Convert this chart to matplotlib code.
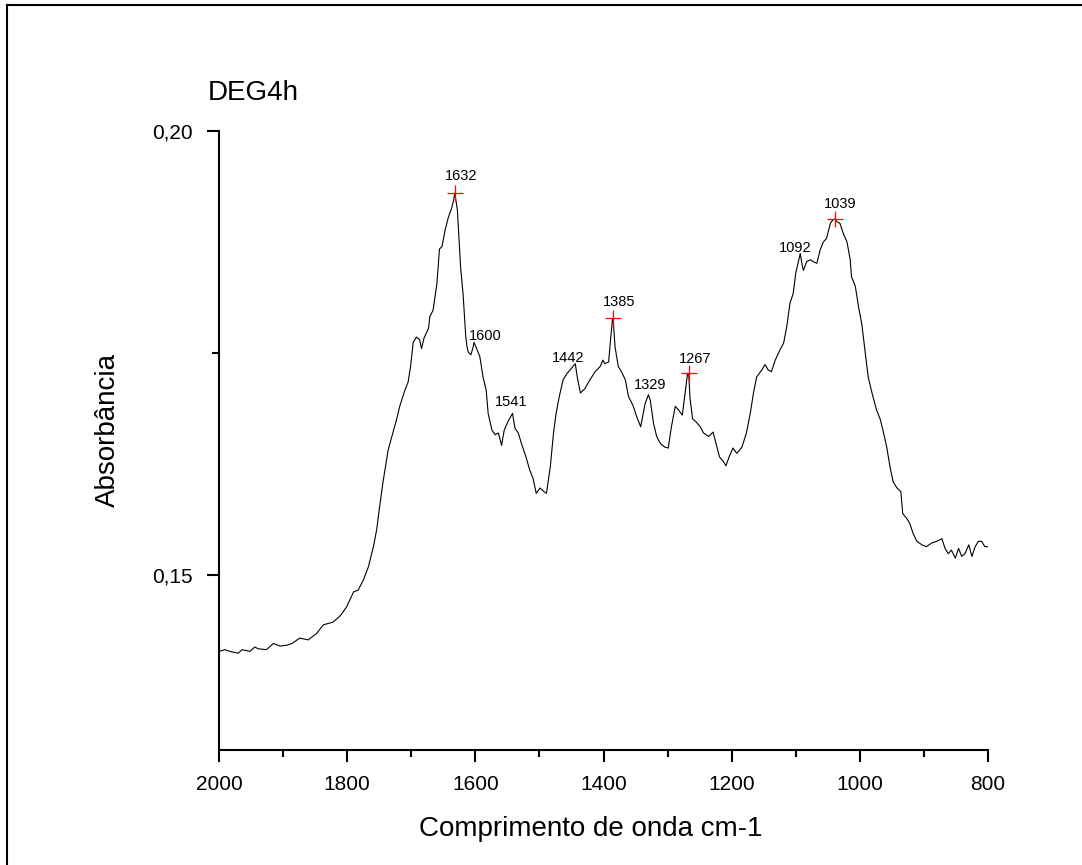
import numpy as np
import matplotlib
matplotlib.use("Agg")
import matplotlib.pyplot as plt
from matplotlib.lines import Line2D
from matplotlib.ticker import FixedLocator, MultipleLocator, FuncFormatter

plt.rcParams['font.family'] = ['Liberation Sans', 'DejaVu Sans']

# espectro FTIR (numero de onda, absorbancia)
wavenumber = [2000, 1991, 1983, 1970, 1964, 1952, 1944, 1939, 1926, 1915,
              1905, 1894, 1886, 1874, 1861, 1848, 1837, 1822, 1811, 1801,
              1790, 1783, 1775, 1767, 1759, 1754, 1749, 1744, 1736, 1723,
              1718, 1710, 1705, 1701, 1697, 1692, 1687, 1684, 1680, 1673,
              1671, 1666, 1660, 1656, 1652, 1647, 1642, 1637, 1634, 1632,
              1628, 1623, 1619, 1615, 1613, 1611, 1607, 1604, 1602, 1597,
              1593, 1588, 1583, 1580, 1574, 1569, 1564, 1559, 1555, 1549,
              1542, 1538, 1533, 1528, 1521, 1515, 1510, 1505, 1499, 1493,
              1489, 1483, 1478, 1474, 1469, 1463, 1457, 1452, 1444, 1441,
              1436, 1429, 1421, 1413, 1405, 1401, 1398, 1392, 1389, 1386,
              1385, 1382, 1377, 1372, 1366, 1361, 1354, 1348, 1342, 1335,
              1330, 1327, 1322, 1317, 1311, 1304, 1299, 1294, 1288, 1283,
              1277, 1273, 1269, 1267, 1265, 1261, 1255, 1249, 1244, 1236,
              1229, 1223, 1219, 1213, 1209, 1204, 1198, 1192, 1184, 1177,
              1171, 1166, 1161, 1153, 1148, 1143, 1138, 1132, 1125, 1119,
              1114, 1109, 1104, 1100, 1093, 1090, 1088, 1083, 1077, 1073,
              1067, 1062, 1057, 1052, 1046, 1042, 1039, 1036, 1031, 1026,
              1020, 1015, 1013, 1007, 1002, 997, 992, 987, 981, 974,
              968, 963, 958, 953, 948, 942, 936, 933, 927, 922,
              917, 911, 903, 896, 888, 880, 872, 867, 862, 857,
              851, 846, 841, 836, 830, 825, 820, 815, 810, 805, 801]
absorbance = [.1414, .1416, .1414, .1412, .1416, .1414, .1419, .1417, .1416, .1423,
              .1420, .1421, .1423, .1429, .1427, .1434, .1444, .1447, .1454, .1464,
              .1481, .1483, .1494, .1509, .1532, .1551, .1579, .1605, .1641, .1675,
              .1690, .1708, .1717, .1735, .1762, .1768, .1765, .1755, .1767, .1778,
              .1791, .1798, .1828, .1867, .1870, .1889, .1903, .1913, .1922, .1930,
              .1911, .1847, .1815, .1769, .1757, .1751, .1748, .1755, .1762, .1753,
              .1746, .1723, .1708, .1682, .1663, .1658, .1660, .1646, .1663, .1673,
              .1682, .1665, .1660, .1648, .1633, .1618, .1609, .1592, .1598, .1594,
              .1592, .1622, .1660, .1682, .1701, .1720, .1727, .1731, .1738, .1723,
              .1705, .1710, .1720, .1729, .1735, .1742, .1738, .1740, .1765, .1788,
              .1789, .1757, .1735, .1729, .1720, .1701, .1691, .1678, .1667, .1693,
              .1703, .1697, .1671, .1656, .1648, .1644, .1643, .1667, .1690, .1686,
              .1680, .1703, .1726, .1727, .1699, .1676, .1672, .1667, .1660, .1656,
              .1661, .1644, .1633, .1628, .1623, .1633, .1643, .1637, .1644, .1660,
              .1682, .1705, .1723, .1731, .1737, .1731, .1729, .1742, .1753, .1761,
              .1780, .1806, .1817, .1840, .1862, .1849, .1843, .1853, .1855, .1853,
              .1851, .1866, .1875, .1879, .1896, .1900, .1901, .1898, .1896, .1885,
              .1875, .1855, .1836, .1825, .1802, .1783, .1753, .1723, .1705, .1686,
              .1675, .1660, .1644, .1622, .1605, .1598, .1594, .1569, .1564, .1558,
              .1547, .1538, .1534, .1532, .1536, .1538, .1541, .1530, .1524, .1528,
              .1519, .1530, .1521, .1524, .1534, .1521, .1532, .1538, .1538, .1532, .1532]

peak_labels = [1632, 1600, 1541, 1442, 1385, 1329, 1267, 1092, 1039]
marked_peaks = [1632, 1385, 1267, 1039]
x_ticks = [2000, 1800, 1600, 1400, 1200, 1000, 800]
y_ticks = [0.15, 0.20]
sample_name = 'DEG4h'

# deslocamento dos rotulos (pixels) em relacao ao ponto da curva
label_offset_px = {1632: (6, 17), 1600: (10, 10), 1541: (-2, 15), 1442: (-8, 15),
                   1385: (6, 16), 1329: (1, 12), 1267: (6, 14), 1092: (-6, 9),
                   1039: (5, 15)}

W, H = 1082, 865
fig = plt.figure(figsize=(W / 100, H / 100), dpi=100)
ax = fig.add_axes([219 / W, 1 - 750 / H, (988 - 219) / W, (750 - 131) / H])

wn = np.array(wavenumber)
ab = np.array(absorbance)
ax.plot(wn, ab, color='black', lw=0.8)

def value_at(w):
    return np.interp(w, wn[::-1], ab[::-1])

ax.plot(marked_peaks, [value_at(w) for w in marked_peaks], '+', color='red',
        markersize=11, markeredgewidth=0.9)

for p in peak_labels:
    dx, dy = label_offset_px[p]
    ax.annotate(str(p), (p, value_at(p)), xytext=(dx * 0.72, dy * 0.72),
                textcoords='offset points', ha='center', va='center', fontsize=10.5)

ax.set_xlim(2000, 800)
ax.set_ylim(0.1303, 0.20)
ax.xaxis.set_major_locator(FixedLocator(x_ticks))
ax.xaxis.set_minor_locator(MultipleLocator(100))
ax.yaxis.set_major_locator(FixedLocator(y_ticks))
ax.yaxis.set_minor_locator(FixedLocator([0.175]))
ax.yaxis.set_major_formatter(FuncFormatter(lambda v, pos: f'{v:.2f}'.replace('.', ',')))

for s in ['top', 'right']:
    ax.spines[s].set_visible(False)
for s in ['left', 'bottom']:
    ax.spines[s].set_linewidth(1.5)
ax.tick_params(which='major', direction='out', length=8.6, width=1.5, labelsize=15)
ax.tick_params(which='minor', direction='out', length=5, width=1.5)
ax.tick_params(axis='x', which='major', pad=9.5)
ax.tick_params(axis='y', which='major', pad=10)

ax.set_xlabel('Comprimento de onda cm-1', fontsize=20)
ax.xaxis.set_label_coords(0.484, -0.106)
ax.set_ylabel('Absorbância', fontsize=20)
ax.yaxis.set_label_coords(-0.128, 0.517)

fig.text(208 / W, 1 - 100 / H, sample_name, fontsize=20, ha='left', va='baseline')

# moldura externa (esquerda e topo)
fig.add_artist(Line2D([7 / W, 7 / W], [0, 1 - 5 / H], transform=fig.transFigure, color='black', lw=1.5))
fig.add_artist(Line2D([7 / W, 1], [1 - 5 / H, 1 - 5 / H], transform=fig.transFigure, color='black', lw=1.5))

fig.savefig('out.png', dpi=100)
